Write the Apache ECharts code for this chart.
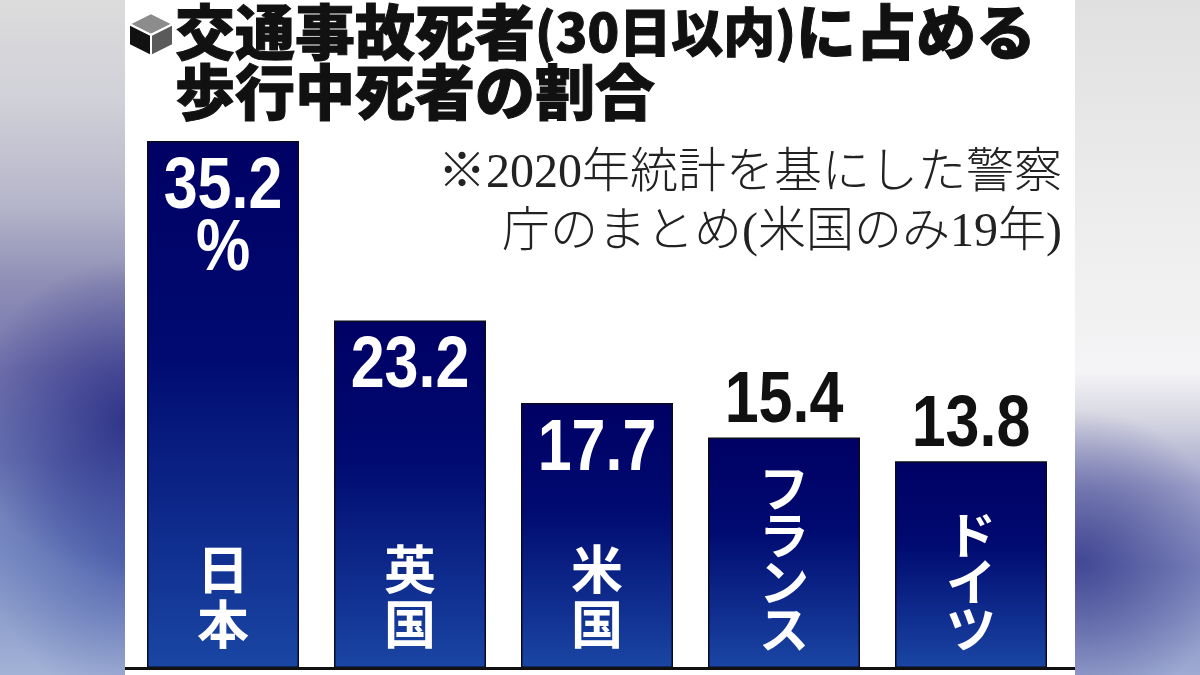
<!DOCTYPE html>
<html>
<head>
<meta charset="utf-8">
<script src="https://cdn.jsdelivr.net/npm/echarts@6/dist/echarts.min.js"></script>
<style>
  html, body { margin: 0; padding: 0; background: #fff; }
  #main { width: 1200px; height: 675px; }
</style>
</head>
<body>
<div id="main"></div>
<script>
// 交通事故死者（30日以内）に占める歩行中死者の割合
const categories = ['日本', '英国', '米国', 'フランス', 'ドイツ']
const values = [35.2, 23.2, 17.7, 15.4, 13.8]
const unit = '%'
const titleLines = ['交通事故死者(30日以内)に占める', '歩行中死者の割合']
const noteLines = ['※2020年統計を基にした警察', '庁のまとめ(米国のみ19年)']

const numFont = "'Liberation Sans', Arial, sans-serif"
const jpFont = "'Noto Sans CJK JP', sans-serif"
const noteFont = "'Liberation Serif', 'Noto Sans CJK JP', serif"

const chart = echarts.init(document.getElementById('main'))

// 見出し：括弧の中は一回り小さく
const titleRich = titleLines.map(function (line) {
  return '{a|' + line.replace(/\(.*?\)/, function (m) { return '}{b|' + m + '}{a|' }) + '}'
}).join('\n')

const barFill = new echarts.graphic.LinearGradient(0, 0, 0, 1, [
  { offset: 0, color: '#000064' },
  { offset: 0.4, color: '#000a70' },
  { offset: 1, color: '#1a46a4' }
])

// 数値ラベル：縦長の太字（棒の中は白、低い棒は上に黒）
function renderValueLabel (params, api) {
  let v = api.value(1)
  let pt = api.coord([api.value(0), v])
  let inside = v > 16
  let lines = params.dataIndex === 0 ? [String(v), unit] : [String(v)]
  let y0 = inside ? pt[1] + 11 : pt[1] - 71
  return {
    type: 'group',
    children: lines.map(function (t, k) {
      return {
        type: 'text',
        x: pt[0],
        y: y0 + k * 62,
        scaleX: 1,
        scaleY: 1.18,
        style: {
          text: t,
          fontFamily: numFont,
          fontWeight: 'bold',
          fontSize: 61,
          fill: inside ? '#fff' : '#111',
          align: 'center',
          verticalAlign: 'top'
        }
      }
    })
  }
}

// 左右の背景（ぼかし）
const sideLeft = new echarts.graphic.LinearGradient(0, 0, 0, 1, [
  { offset: 0, color: '#dcdcdc' },
  { offset: 0.15, color: '#d0d0d8' },
  { offset: 0.3, color: '#b6b6ca' },
  { offset: 0.42, color: '#8e8eb6' },
  { offset: 0.55, color: '#7474ae' },
  { offset: 0.68, color: '#6a76b4' },
  { offset: 0.82, color: '#7a8cc2' },
  { offset: 1, color: '#a2b2d6' }
])
const sideRight = new echarts.graphic.LinearGradient(0, 0, 0, 1, [
  { offset: 0, color: '#e0e0e0' },
  { offset: 0.35, color: '#eeeeee' },
  { offset: 0.55, color: '#f4f4f6' },
  { offset: 0.62, color: '#d6d6e2' },
  { offset: 0.72, color: '#a0a4ca' },
  { offset: 0.84, color: '#8088be' },
  { offset: 1, color: '#9eaad2' }
])

function glow (x, y, r, rgb, a) {
  return new echarts.graphic.RadialGradient(x, y, r, [
    { offset: 0, color: 'rgba(' + rgb + ',' + a + ')' },
    { offset: 1, color: 'rgba(' + rgb + ',0)' }
  ], true)
}

const option = {
  backgroundColor: '#fff',
  animation: false,
  title: {
    text: titleRich,
    left: 175,
    top: 2,
    padding: 0,
    textStyle: {
      rich: {
        a: { fontFamily: jpFont, fontSize: 60, lineHeight: 60, fontWeight: 900, color: '#111', textBorderColor: '#111', textBorderWidth: 1 },
        b: { fontFamily: jpFont, fontSize: 52, lineHeight: 60, fontWeight: 900, color: '#111', textBorderColor: '#111', textBorderWidth: 1 }
      }
    }
  },
  grid: { left: 129.5, right: 135.5, top: 69, bottom: 7 },
  xAxis: {
    type: 'category',
    data: categories,
    axisLine: { show: false },
    axisTick: { show: false },
    axisLabel: {
      inside: true,
      interval: 0,
      margin: 16,
      formatter: function (v) {
        let style = /[\u30a0-\u30ff]/.test(v) ? 'k' : 'j'
        return '{' + style + '|' + v.split('').join('\n') + '}'
      },
      rich: {
        j: { fontFamily: jpFont, fontSize: 52, lineHeight: 55, fontWeight: 'bold', color: '#fff' },
        k: { fontFamily: jpFont, fontSize: 50, lineHeight: 47, fontWeight: 'bold', color: '#fff' }
      }
    },
    z: 10
  },
  yAxis: {
    type: 'value',
    min: 0,
    max: 40,
    show: false
  },
  series: [
    {
      type: 'bar',
      data: values,
      barWidth: 152,
      itemStyle: { color: barFill, borderColor: '#0a0a1e', borderWidth: 1.5 }
    },
    {
      type: 'custom',
      data: values.map(function (v, i) { return [i, v] }),
      encode: { x: 0, y: 1 },
      renderItem: renderValueLabel,
      z: 5
    }
  ],
  graphic: [
    { type: 'rect', shape: { x: 0, y: 0, width: 125, height: 675 }, style: { fill: sideLeft }, silent: true },
    { type: 'rect', shape: { x: 0, y: 0, width: 125, height: 675 }, style: { fill: glow(130, 420, 160, '20,24,120', 0.7) }, silent: true },
    { type: 'rect', shape: { x: 0, y: 0, width: 125, height: 675 }, style: { fill: glow(130, 560, 140, '30,50,150', 0.45) }, silent: true },
    { type: 'rect', shape: { x: 1075, y: 0, width: 125, height: 675 }, style: { fill: sideRight }, silent: true },
    { type: 'rect', shape: { x: 1075, y: 0, width: 125, height: 675 }, style: { fill: glow(1080, 560, 150, '40,44,130', 0.7) }, silent: true },
    // 注記
    {
      type: 'text', x: 1062, y: 145, silent: true,
      style: {
        text: noteLines.join('\n'),
        align: 'right',
        verticalAlign: 'top',
        fontFamily: noteFont,
        fontSize: 48,
        lineHeight: 59,
        fontWeight: 300,
        fill: '#222'
      }
    },
    // 基線
    { type: 'rect', shape: { x: 125, y: 667, width: 950, height: 3 }, style: { fill: '#111' }, z: 5, silent: true },
    // 見出しのアイコン（立方体）
    {
      type: 'group', silent: true,
      children: [
        { type: 'polygon', shape: { points: [[151, 13], [173, 24], [151, 35], [129, 24]] }, style: { fill: '#8c8c8c', stroke: '#fff', lineWidth: 2 } },
        { type: 'polygon', shape: { points: [[129, 24], [151, 35], [151, 56], [129, 45]] }, style: { fill: '#111', stroke: '#fff', lineWidth: 2 } },
        { type: 'polygon', shape: { points: [[151, 35], [173, 24], [173, 45], [151, 56]] }, style: { fill: '#5a5a5a', stroke: '#fff', lineWidth: 2 } }
      ]
    }
  ]
}

chart.setOption(option)
</script>
</body>
</html>
